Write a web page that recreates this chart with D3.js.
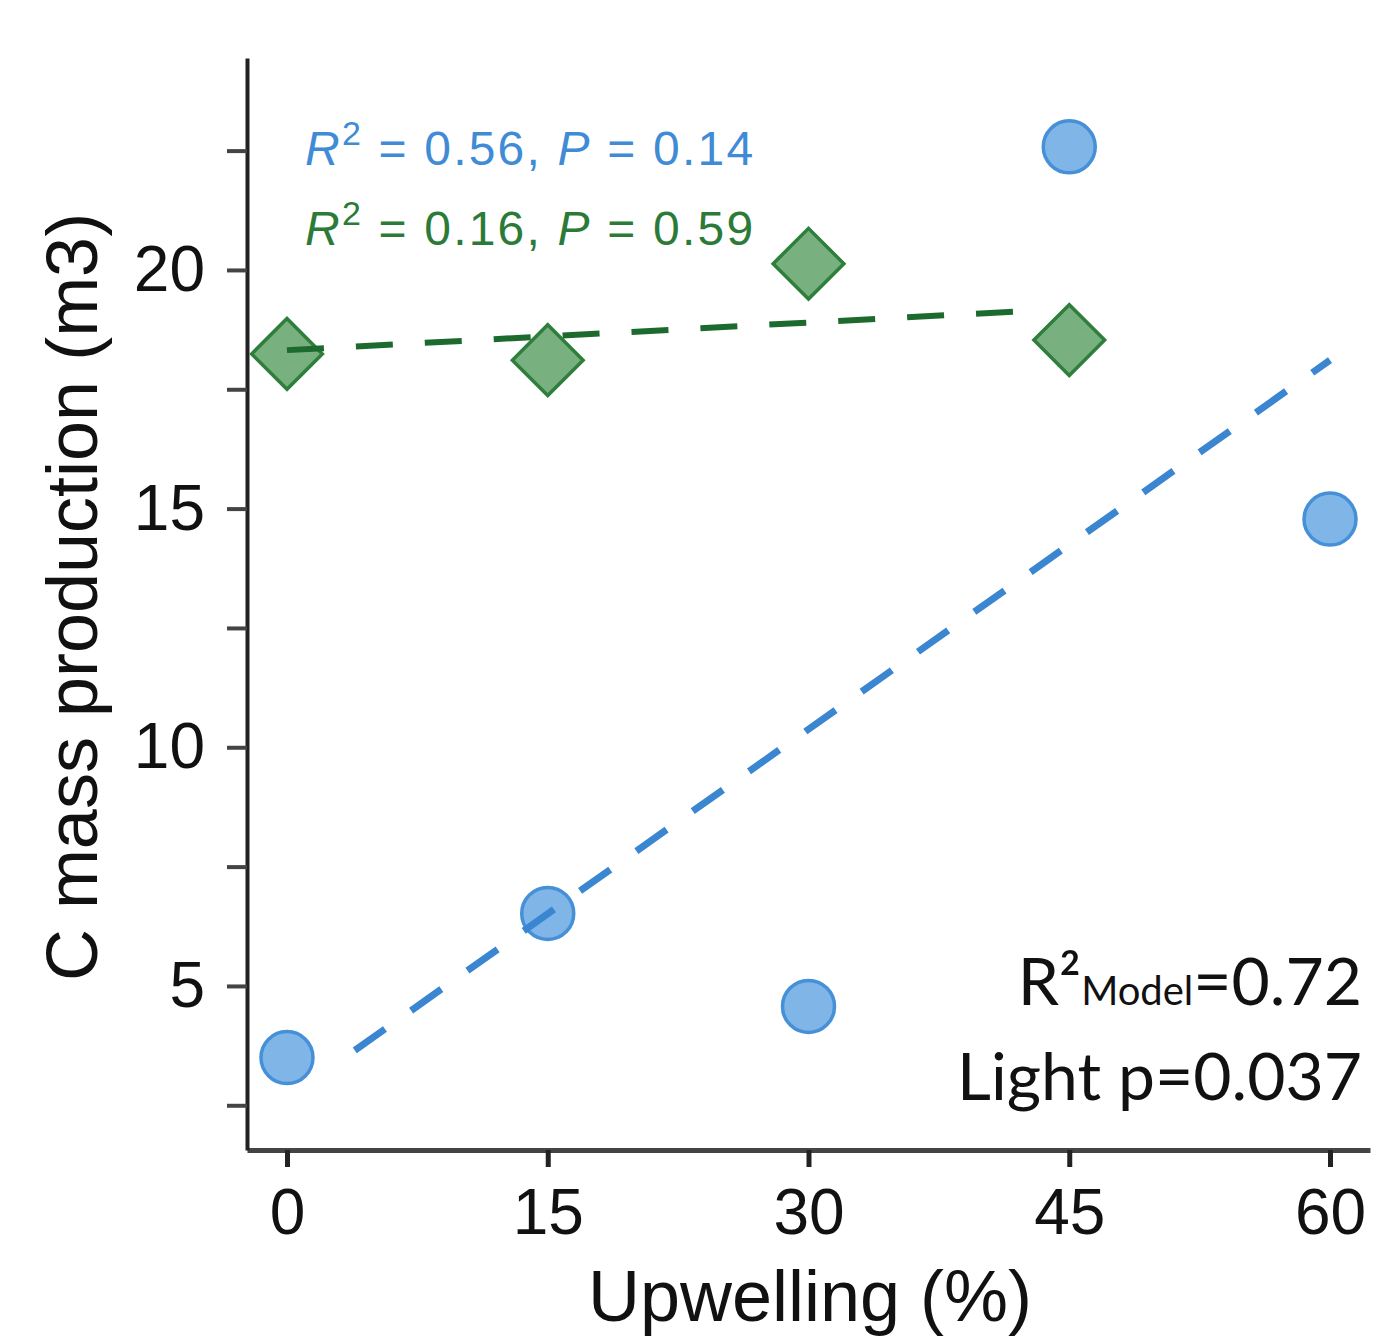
<!DOCTYPE html>
<html>
<head>
<meta charset="utf-8">
<script src="https://cdn.jsdelivr.net/npm/d3@7"></script>
<style>
  body { margin: 0; background: #fff; }
  svg { display: block; }
</style>
</head>
<body>
<script>
// data
const xTicks = [0, 15, 30, 45, 60]
const yTicks = [2.5, 5, 7.5, 10, 12.5, 15, 17.5, 20, 22.5]
const yLabelled = [5, 10, 15, 20]

const lightX = [0, 15, 30, 45, 60]
const lightY = [3.5, 6.52, 4.57, 22.58, 14.78]
const darkX = [0, 15, 30, 45]
const darkY = [18.24, 18.11, 20.13, 18.53]

// fitted lines (end points)
const lightFitX = [3.9, 60]
const lightFitY = [3.65, 18.11]
const darkFitX = [0, 43.6]
const darkFitY = [18.32, 19.16]

const w = 1376
const h = 1339
const blue = "#3f8bd5"
const green = "#2c7a38"

const svg = d3.select("body").append("svg")
              .attr("width", w)
              .attr("height", h)

const xScale = d3.scaleLinear().domain([-2.3, 62.3]).range([247, 1370])
const yScale = d3.scaleLinear().domain([1.563, 24.44]).range([1150, 58])

const xAxis = d3.axisBottom(xScale)
                .tickValues(xTicks)
                .tickSize(17)
                .tickSizeOuter(0)
                .tickPadding(22)
const yAxis = d3.axisLeft(yScale)
                .tickValues(yTicks)
                .tickSize(20)
                .tickSizeOuter(0)
                .tickPadding(22)
                .tickFormat(d => yLabelled.includes(d) ? d : "")

const gx = svg.append("g")
   .attr("transform", "translate(0," + 1150 + ")")
   .call(xAxis)
gx.select(".domain").attr("stroke", "#444").attr("stroke-width", 5)
gx.selectAll(".tick line").attr("stroke", "#222").attr("stroke-width", 5)
gx.selectAll(".tick text")
  .attr("font-family", "Liberation Sans, Arial, sans-serif")
  .attr("font-size", 64)
  .attr("fill", "#111")

const gy = svg.append("g")
   .attr("transform", "translate(247,0)")
   .call(yAxis)
gy.select(".domain").attr("stroke", "#222").attr("stroke-width", 4)
gy.selectAll(".tick line").attr("stroke", "#444").attr("stroke-width", 4)
gy.selectAll(".tick text")
  .attr("font-family", "Liberation Sans, Arial, sans-serif")
  .attr("font-size", 64)
  .attr("fill", "#111")

// axis titles
svg.append("text")
   .attr("transform", "translate(97,597) rotate(-90)")
   .attr("text-anchor", "middle")
   .attr("font-family", "Liberation Sans, Arial, sans-serif")
   .attr("font-size", 72)
   .attr("fill", "#111")
   .text("C mass production (m3)")

svg.append("text")
   .attr("x", 810)
   .attr("y", 1321)
   .attr("text-anchor", "middle")
   .attr("font-family", "Liberation Sans, Arial, sans-serif")
   .attr("font-size", 72)
   .attr("fill", "#111")
   .text("Upwelling (%)")

// points
svg.selectAll("circle.light")
   .data(lightX)
   .enter()
   .append("circle")
   .attr("class", "light")
   .attr("cx", (d) => xScale(d))
   .attr("cy", (d, i) => yScale(lightY[i]))
   .attr("r", 26)
   .attr("fill", "#7fb5e7")
   .attr("stroke", "#4690d7")
   .attr("stroke-width", 3.5)

const diamond = d3.symbol().type(d3.symbolSquare).size(50 * 50)
svg.selectAll("path.dark")
   .data(darkX)
   .enter()
   .append("path")
   .attr("class", "dark")
   .attr("d", diamond)
   .attr("transform", (d, i) => "translate(" + xScale(d) + "," + yScale(darkY[i]) + ") rotate(45)")
   .attr("fill", "#78b07f")
   .attr("stroke", "#2f7f3c")
   .attr("stroke-width", 3.5)

// fit lines, drawn over the points
const line = d3.line().x(d => xScale(d[0])).y(d => yScale(d[1]))
svg.append("path")
   .attr("d", line(lightFitX.map((x, i) => [x, lightFitY[i]])))
   .attr("fill", "none")
   .attr("stroke", "#3a86d1")
   .attr("stroke-width", 7)
   .attr("stroke-dasharray", "37 32")

svg.append("path")
   .attr("d", line(darkFitX.map((x, i) => [x, darkFitY[i]])))
   .attr("fill", "none")
   .attr("stroke", "#1d6a2e")
   .attr("stroke-width", 6)
   .attr("stroke-dasharray", "37 32")

// stats text
function statLine(y, color, r2, p) {
    const t = svg.append("text")
                 .attr("x", 305)
                 .attr("y", y)
                 .attr("font-family", "Liberation Sans, Arial, sans-serif")
                 .attr("font-size", 48)
                 .attr("letter-spacing", 2.2)
                 .attr("fill", color)
    t.append("tspan").attr("font-style", "italic").text("R")
    t.append("tspan").attr("font-size", 34).attr("dy", -20).text("2")
    t.append("tspan").attr("dy", 20).text(" = " + r2 + ", ")
    t.append("tspan").attr("font-style", "italic").text("P")
    t.append("tspan").text(" = " + p)
}
statLine(165, blue, "0.56", "0.14")
statLine(245, green, "0.16", "0.59")

const model = svg.append("text")
   .attr("x", 1362)
   .attr("y", 1005)
   .attr("text-anchor", "end")
   .attr("font-family", "Lato, Open Sans, sans-serif")
   .attr("font-size", 66)
   .attr("fill", "#111")
model.append("tspan").text("R²")
model.append("tspan").attr("font-size", 40).text("Model")
model.append("tspan").text("=0.72")

svg.append("text")
   .attr("x", 1362)
   .attr("y", 1100)
   .attr("text-anchor", "end")
   .attr("font-family", "Lato, Open Sans, sans-serif")
   .attr("font-size", 66)
   .attr("fill", "#111")
   .text("Light p=0.037")
</script>
</body>
</html>
